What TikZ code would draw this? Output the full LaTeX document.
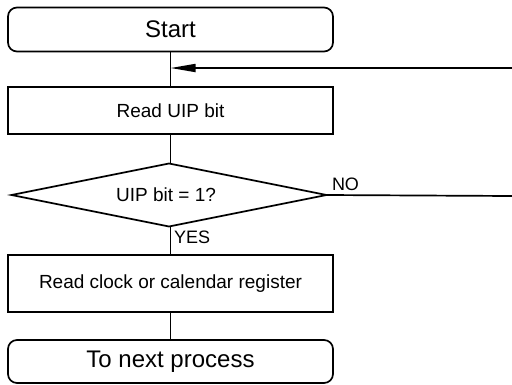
\documentclass[tikz,border=0pt]{standalone}
\usepackage{fontspec}
\setmainfont{Liberation Sans}
\usetikzlibrary{shapes.geometric,arrows.meta}
\begin{document}
\begin{tikzpicture}[x=1pt,y=-1pt,
  every node/.style={inner sep=0pt, outer sep=0pt},
  flowline/.style={line width=1.7pt, line cap=rect},
  terminal/.style={draw, line width=1.7pt, rounded corners=9pt,
    minimum width=325pt, minimum height=44pt,
    font=\fontsize{24}{28}\selectfont},
  process/.style={draw, line width=1.7pt,
    minimum width=325pt, font=\fontsize{19}{22}\selectfont},
  decision/.style={draw, diamond, aspect=5, line width=1.7pt,
    minimum width=315pt, minimum height=63pt,
    font=\fontsize{19}{22}\selectfont},
  tag/.style={font=\fontsize{18}{20}\selectfont}]
\useasboundingbox (0,0) rectangle (512,384);

\node[terminal] (start) at (170.5,29.5) {Start};
\node[process, minimum height=47pt] (readuip) at (170.5,110.5) {Read UIP bit};
\node[decision] (test) at (169,195) {\hspace*{-6pt}\raisebox{-3pt}{UIP bit = 1?}};
\node[process, minimum height=57pt] (readreg) at (170.5,283.5) {Read clock or calendar register};
\node[terminal, minimum height=43pt] (next) at (170.5,361.5) {To next process};

\coordinate (loopin) at (512,68);
\coordinate (loopout) at (512,196);

% main flow
\draw[flowline] (start.south) -- (readuip.north);
\draw[flowline] (readuip.south) -- (readuip.south |- test.north);
\draw[flowline] (readuip.south |- test.south) -- (readreg.north);
\draw[flowline] (readreg.south) -- (next.north);

% loop back while an update is in progress
\draw[flowline] (test.east) -- (loopout);
\draw[flowline, -{Triangle[length=25pt,width=8pt]}] (loopin) -- (start.south |- loopin);

\node[tag, anchor=base west] (nolbl) at (332,190) {NO};
\node[tag, anchor=base west] (yeslbl) at (174,243) {YES};
\end{tikzpicture}
\end{document}
